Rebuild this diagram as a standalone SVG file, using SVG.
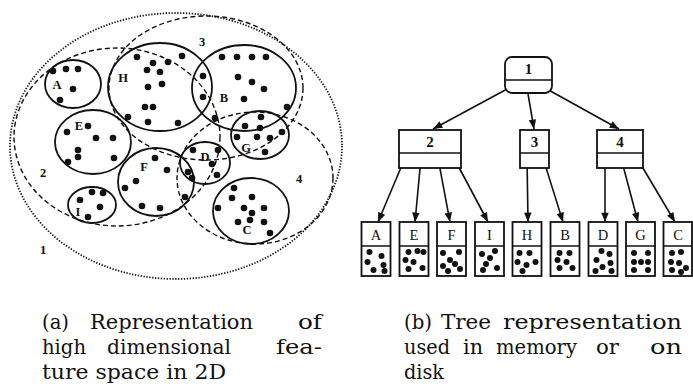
<svg xmlns="http://www.w3.org/2000/svg" width="693" height="390" viewBox="0 0 693 390">
<defs>
<style>
.solid{fill:none;stroke:#111;stroke-width:1.8}
.dash{fill:none;stroke:#111;stroke-width:1.4;stroke-dasharray:5 3}
.dotted{fill:none;stroke:#111;stroke-width:1.8;stroke-dasharray:1.3 1.6}
.pt{fill:#111}
.lbl{font-family:"Liberation Serif",serif;font-size:12.5px;font-weight:bold;text-anchor:middle;fill:#111}
.box{fill:#fff;stroke:#111;stroke-width:1.8}
.div{stroke:#111;stroke-width:1.5}
.tl{font-family:"Liberation Serif",serif;font-size:15px;font-weight:bold;text-anchor:middle;fill:#111}
.ll{font-family:"Liberation Serif",serif;font-size:14.5px;text-anchor:middle;fill:#111}
.arr{fill:none;stroke:#111;stroke-width:1.6;marker-end:url(#ah)}
.cap{font-family:"DejaVu Serif",serif;font-size:20px;fill:#111}
</style>
<marker id="ah" viewBox="0 0 10 8" refX="10" refY="4" markerWidth="10" markerHeight="7.5" markerUnits="userSpaceOnUse" orient="auto"><path d="M0,0 L10,4 L0,8 z" fill="#111"/></marker>
</defs>
<rect width="693" height="390" fill="#fff"/>

<!-- (a) feature space -->
<g id="region-1"><ellipse class="dotted" cx="176" cy="146" rx="166" ry="133"/><text class="lbl" x="43" y="254">1</text></g>
<g id="region-2"><ellipse class="dash" cx="117" cy="137" rx="103" ry="89"/><text class="lbl" x="43" y="177">2</text></g>
<g id="region-3"><ellipse class="dash" cx="206" cy="88" rx="97" ry="72"/><text class="lbl" x="202" y="46">3</text></g>
<g id="region-4"><ellipse class="dash" cx="255" cy="178" rx="78" ry="66"/><text class="lbl" x="299" y="183">4</text></g>

<g id="cluster-A"><ellipse class="solid" cx="73" cy="84" rx="28" ry="24"/><text class="lbl" x="57" y="89">A</text>
<circle class="pt" cx="53" cy="71" r="3.3"/><circle class="pt" cx="66" cy="69" r="3.3"/><circle class="pt" cx="78" cy="69" r="3.3"/><circle class="pt" cx="73" cy="89" r="3.3"/><circle class="pt" cx="60" cy="100" r="3.3"/></g>
<g id="cluster-H"><ellipse class="solid" cx="160" cy="87" rx="52" ry="44"/><text class="lbl" x="123" y="82">H</text>
<circle class="pt" cx="137" cy="57" r="3.3"/><circle class="pt" cx="153" cy="63" r="3.3"/><circle class="pt" cx="147" cy="70" r="3.3"/><circle class="pt" cx="160" cy="72" r="3.3"/><circle class="pt" cx="168" cy="62" r="3.3"/><circle class="pt" cx="182" cy="56" r="3.3"/><circle class="pt" cx="148" cy="87" r="3.3"/><circle class="pt" cx="162" cy="84" r="3.3"/><circle class="pt" cx="145" cy="107" r="3.3"/><circle class="pt" cx="153" cy="107" r="3.3"/><circle class="pt" cx="128" cy="117" r="3.3"/><circle class="pt" cx="148" cy="122" r="3.3"/><circle class="pt" cx="178" cy="123" r="3.3"/></g>
<g id="cluster-B"><ellipse class="solid" cx="244" cy="88" rx="52" ry="43"/><text class="lbl" x="224" y="102">B</text>
<circle class="pt" cx="222" cy="57" r="3.3"/><circle class="pt" cx="237" cy="57" r="3.3"/><circle class="pt" cx="252" cy="57" r="3.3"/><circle class="pt" cx="266" cy="57" r="3.3"/><circle class="pt" cx="203" cy="76" r="3.3"/><circle class="pt" cx="203" cy="97" r="3.3"/><circle class="pt" cx="238" cy="77" r="3.3"/><circle class="pt" cx="252" cy="82" r="3.3"/><circle class="pt" cx="264" cy="89" r="3.3"/><circle class="pt" cx="244" cy="99" r="3.3"/><circle class="pt" cx="287" cy="107" r="3.3"/><circle class="pt" cx="215" cy="118" r="3.3"/></g>
<g id="cluster-G"><ellipse class="solid" cx="260" cy="135" rx="29" ry="24"/><text class="lbl" x="246" y="152">G</text>
<circle class="pt" cx="261" cy="117" r="3.3"/><circle class="pt" cx="245" cy="126" r="3.3"/><circle class="pt" cx="260" cy="128" r="3.3"/><circle class="pt" cx="282" cy="132" r="3.3"/><circle class="pt" cx="237" cy="137" r="3.3"/><circle class="pt" cx="257" cy="137" r="3.3"/><circle class="pt" cx="270" cy="138" r="3.3"/><circle class="pt" cx="265" cy="152" r="3.3"/></g>
<g id="cluster-E"><ellipse class="solid" cx="93" cy="142" rx="38" ry="32"/><text class="lbl" x="79" y="130">E</text>
<circle class="pt" cx="67" cy="132" r="3.3"/><circle class="pt" cx="88" cy="126" r="3.3"/><circle class="pt" cx="96" cy="138" r="3.3"/><circle class="pt" cx="113" cy="138" r="3.3"/><circle class="pt" cx="78" cy="150" r="3.3"/><circle class="pt" cx="78" cy="157" r="3.3"/><circle class="pt" cx="68" cy="162" r="3.3"/><circle class="pt" cx="114" cy="158" r="3.3"/></g>
<g id="cluster-F"><ellipse class="solid" cx="156" cy="182" rx="38" ry="34"/><text class="lbl" x="144" y="171">F</text>
<circle class="pt" cx="155" cy="158" r="3.3"/><circle class="pt" cx="167" cy="170" r="3.3"/><circle class="pt" cx="136" cy="181" r="3.3"/><circle class="pt" cx="125" cy="188" r="3.3"/><circle class="pt" cx="142" cy="206" r="3.3"/><circle class="pt" cx="160" cy="208" r="3.3"/><circle class="pt" cx="185" cy="197" r="3.3"/></g>
<g id="cluster-D"><ellipse class="solid" cx="205" cy="163" rx="25" ry="21"/><text class="lbl" x="205" y="161">D</text>
<circle class="pt" cx="193" cy="150" r="3.3"/><circle class="pt" cx="218" cy="150" r="3.3"/><circle class="pt" cx="212" cy="164" r="3.3"/><circle class="pt" cx="188" cy="172" r="3.3"/><circle class="pt" cx="192" cy="178" r="3.3"/><circle class="pt" cx="217" cy="175" r="3.3"/></g>
<g id="cluster-I"><ellipse class="solid" cx="92" cy="205" rx="24" ry="18"/><text class="lbl" x="78" y="216">I</text>
<circle class="pt" cx="80" cy="200" r="3.3"/><circle class="pt" cx="92" cy="192" r="3.3"/><circle class="pt" cx="103" cy="193" r="3.3"/><circle class="pt" cx="100" cy="207" r="3.3"/><circle class="pt" cx="88" cy="217" r="3.3"/></g>
<g id="cluster-C"><ellipse class="solid" cx="251" cy="211" rx="38" ry="33"/><text class="lbl" x="247" y="234">C</text>
<circle class="pt" cx="234" cy="188" r="3.3"/><circle class="pt" cx="232" cy="198" r="3.3"/><circle class="pt" cx="252" cy="197" r="3.3"/><circle class="pt" cx="218" cy="208" r="3.3"/><circle class="pt" cx="244" cy="208" r="3.3"/><circle class="pt" cx="264" cy="208" r="3.3"/><circle class="pt" cx="252" cy="213" r="3.3"/><circle class="pt" cx="250" cy="220" r="3.3"/><circle class="pt" cx="238" cy="222" r="3.3"/><circle class="pt" cx="264" cy="222" r="3.3"/><circle class="pt" cx="270" cy="233" r="3.3"/></g>

<!-- (b) tree -->
<g id="connectors">
<line class="arr" x1="509" y1="88" x2="433" y2="129"/>
<line class="arr" x1="527" y1="88" x2="534" y2="129"/>
<line class="arr" x1="545" y1="88" x2="619" y2="129"/>
<line class="arr" x1="405" y1="158" x2="378" y2="222"/>
<line class="arr" x1="421" y1="158" x2="415" y2="222"/>
<line class="arr" x1="438" y1="158" x2="450" y2="222"/>
<line class="arr" x1="454" y1="158" x2="488" y2="222"/>
<line class="arr" x1="527" y1="158" x2="528" y2="222"/>
<line class="arr" x1="543" y1="158" x2="563" y2="222"/>
<line class="arr" x1="605" y1="158" x2="605" y2="222"/>
<line class="arr" x1="621" y1="158" x2="638" y2="222"/>
<line class="arr" x1="637" y1="158" x2="675" y2="222"/>
</g>

<g id="tree-node-1"><rect class="box" x="505" y="57" width="47" height="36" rx="7"/><line class="div" x1="505" y1="80" x2="552" y2="80"/><text class="tl" x="528.5" y="74">1</text></g>
<g id="tree-node-2"><rect class="box" x="399" y="130" width="62" height="38"/><line class="div" x1="399" y1="153" x2="461" y2="153"/><text class="tl" x="430" y="147">2</text></g>
<g id="tree-node-3"><rect class="box" x="520" y="130" width="29" height="38"/><line class="div" x1="520" y1="153" x2="549" y2="153"/><text class="tl" x="534.5" y="147">3</text></g>
<g id="tree-node-4"><rect class="box" x="597" y="130" width="46" height="38"/><line class="div" x1="597" y1="153" x2="643" y2="153"/><text class="tl" x="620" y="147">4</text></g>

<g id="leaf-A"><rect class="box" x="361.5" y="222" width="29" height="54"/><line class="div" x1="361.5" y1="246" x2="390.5" y2="246"/><text class="ll" x="376" y="239.5">A</text>
<circle class="pt" cx="369.5" cy="252" r="3"/><circle class="pt" cx="381.5" cy="256" r="3"/><circle class="pt" cx="367.5" cy="262" r="3"/><circle class="pt" cx="383.5" cy="265" r="3"/><circle class="pt" cx="373.5" cy="270" r="3"/><circle class="pt" cx="384.5" cy="271" r="3"/></g>
<g id="leaf-E"><rect class="box" x="399.5" y="222" width="29" height="54"/><line class="div" x1="399.5" y1="246" x2="428.5" y2="246"/><text class="ll" x="414" y="239.5">E</text>
<circle class="pt" cx="408.5" cy="252" r="3"/><circle class="pt" cx="417.5" cy="251" r="3"/><circle class="pt" cx="423.5" cy="252" r="3"/><circle class="pt" cx="405.5" cy="260" r="3"/><circle class="pt" cx="413.5" cy="262" r="3"/><circle class="pt" cx="408.5" cy="269" r="3"/><circle class="pt" cx="422.5" cy="268" r="3"/></g>
<g id="leaf-F"><rect class="box" x="437" y="222" width="29" height="54"/><line class="div" x1="437" y1="246" x2="466" y2="246"/><text class="ll" x="451.5" y="239.5">F</text>
<circle class="pt" cx="443" cy="253" r="3"/><circle class="pt" cx="459" cy="252" r="3"/><circle class="pt" cx="450" cy="260" r="3"/><circle class="pt" cx="455" cy="264" r="3"/><circle class="pt" cx="460" cy="269" r="3"/><circle class="pt" cx="443" cy="266" r="3"/><circle class="pt" cx="448" cy="271" r="3"/></g>
<g id="leaf-I"><rect class="box" x="475" y="222" width="29" height="54"/><line class="div" x1="475" y1="246" x2="504" y2="246"/><text class="ll" x="489.5" y="239.5">I</text>
<circle class="pt" cx="495" cy="251" r="3"/><circle class="pt" cx="482" cy="254" r="3"/><circle class="pt" cx="490" cy="258" r="3"/><circle class="pt" cx="486" cy="264" r="3"/><circle class="pt" cx="497" cy="268" r="3"/><circle class="pt" cx="483" cy="270" r="3"/></g>
<g id="leaf-H"><rect class="box" x="512.5" y="222" width="29" height="54"/><line class="div" x1="512.5" y1="246" x2="541.5" y2="246"/><text class="ll" x="527" y="239.5">H</text>
<circle class="pt" cx="519.5" cy="253" r="3"/><circle class="pt" cx="529.5" cy="253" r="3"/><circle class="pt" cx="517.5" cy="262" r="3"/><circle class="pt" cx="526.5" cy="265" r="3"/><circle class="pt" cx="535.5" cy="262" r="3"/><circle class="pt" cx="522.5" cy="271" r="3"/></g>
<g id="leaf-B"><rect class="box" x="550.5" y="222" width="29" height="54"/><line class="div" x1="550.5" y1="246" x2="579.5" y2="246"/><text class="ll" x="565" y="239.5">B</text>
<circle class="pt" cx="559.5" cy="253" r="3"/><circle class="pt" cx="569.5" cy="253" r="3"/><circle class="pt" cx="557.5" cy="260" r="3"/><circle class="pt" cx="566.5" cy="262" r="3"/><circle class="pt" cx="572.5" cy="268" r="3"/><circle class="pt" cx="559.5" cy="268" r="3"/></g>
<g id="leaf-D"><rect class="box" x="588.5" y="222" width="29" height="54"/><line class="div" x1="588.5" y1="246" x2="617.5" y2="246"/><text class="ll" x="603" y="239.5">D</text>
<circle class="pt" cx="601.5" cy="251" r="3"/><circle class="pt" cx="609.5" cy="254" r="3"/><circle class="pt" cx="596.5" cy="260" r="3"/><circle class="pt" cx="610.5" cy="263" r="3"/><circle class="pt" cx="602.5" cy="267" r="3"/><circle class="pt" cx="611.5" cy="271" r="3"/><circle class="pt" cx="595.5" cy="271" r="3"/></g>
<g id="leaf-G"><rect class="box" x="626" y="222" width="29" height="54"/><line class="div" x1="626" y1="246" x2="655" y2="246"/><text class="ll" x="640.5" y="239.5">G</text>
<circle class="pt" cx="634" cy="253" r="3"/><circle class="pt" cx="648" cy="253" r="3"/><circle class="pt" cx="634" cy="262" r="3"/><circle class="pt" cx="641" cy="262" r="3"/><circle class="pt" cx="648" cy="262" r="3"/><circle class="pt" cx="634" cy="270" r="3"/><circle class="pt" cx="648" cy="270" r="3"/></g>
<g id="leaf-C"><rect class="box" x="663.5" y="222" width="28.5" height="54"/><line class="div" x1="663.5" y1="246" x2="692" y2="246"/><text class="ll" x="678" y="239.5">C</text>
<circle class="pt" cx="672" cy="253" r="3"/><circle class="pt" cx="681" cy="252" r="3"/><circle class="pt" cx="671" cy="262" r="3"/><circle class="pt" cx="679" cy="263" r="3"/><circle class="pt" cx="686" cy="268" r="3"/><circle class="pt" cx="672" cy="270" r="3"/><circle class="pt" cx="681" cy="272" r="3"/></g>

<!-- captions -->
<g id="caption-a">
<text class="cap" x="42" y="329" textLength="27" lengthAdjust="spacingAndGlyphs">(a)</text>
<text class="cap" x="90" y="329" textLength="163" lengthAdjust="spacingAndGlyphs">Representation</text>
<text class="cap" x="298" y="329" textLength="24" lengthAdjust="spacingAndGlyphs">of</text>
<text class="cap" x="42" y="354" textLength="44" lengthAdjust="spacingAndGlyphs">high</text>
<text class="cap" x="107" y="354" textLength="124" lengthAdjust="spacingAndGlyphs">dimensional</text>
<text class="cap" x="276" y="354" textLength="46" lengthAdjust="spacingAndGlyphs">fea-</text>
<text class="cap" x="42" y="379" textLength="184" lengthAdjust="spacingAndGlyphs">ture space in 2D</text>
</g>
<g id="caption-b">
<text class="cap" x="404" y="329" textLength="28" lengthAdjust="spacingAndGlyphs">(b)</text>
<text class="cap" x="441" y="329" textLength="50" lengthAdjust="spacingAndGlyphs">Tree</text>
<text class="cap" x="503" y="329" textLength="179" lengthAdjust="spacingAndGlyphs">representation</text>
<text class="cap" x="404" y="354" textLength="46" lengthAdjust="spacingAndGlyphs">used</text>
<text class="cap" x="463" y="354" textLength="20" lengthAdjust="spacingAndGlyphs">in</text>
<text class="cap" x="496" y="354" textLength="81" lengthAdjust="spacingAndGlyphs">memory</text>
<text class="cap" x="596" y="354" textLength="23" lengthAdjust="spacingAndGlyphs">or</text>
<text class="cap" x="650" y="354" textLength="32" lengthAdjust="spacingAndGlyphs">on</text>
<text class="cap" x="404" y="379" textLength="40" lengthAdjust="spacingAndGlyphs">disk</text>
</g>
</svg>
